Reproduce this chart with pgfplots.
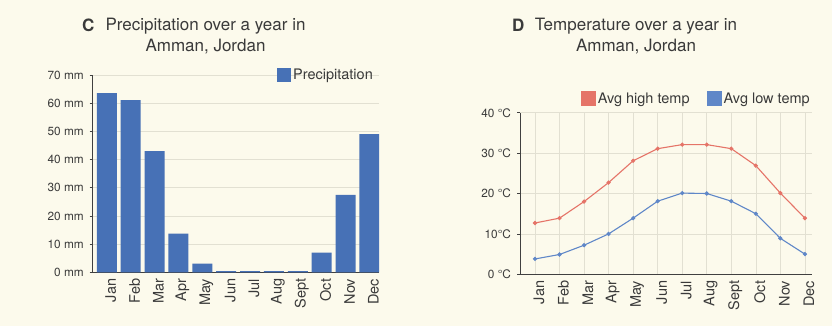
\documentclass[border=0pt]{standalone}
\usepackage{pgfplots}
\pgfplotsset{compat=1.18}
\usepackage{fontspec}
\setmainfont{TeX Gyre Heros}
\definecolor{bg}{HTML}{FCFAEC}
\definecolor{txt}{HTML}{3A3A3A}
\definecolor{barblue}{HTML}{4771B6}
\definecolor{hired}{HTML}{E57468}
\definecolor{loblue}{HTML}{5F87C8}
\definecolor{gridc}{HTML}{E2E0D2}
\definecolor{axc}{HTML}{404040}
\pgfplotsset{
  common/.style={
    scale only axis,
    anchor=south west,
    axis lines*=left,
    axis line style={axc, line width=0.9bp},
    tick align=outside,
    major tick length=3bp,
    ytick style={axc, line width=0.7bp},
    xtick style={draw=none},
    yticklabel style={font=\fontsize{11.8bp}{13bp}\selectfont, text=txt, xshift=-2.5bp},
    xticklabel style={rotate=90, anchor=east, font=\fontsize{14.5bp}{16bp}\selectfont, text=txt, yshift=-4bp},
    xtick={0,...,11},
    xticklabels={Jan,Feb,Mar,Apr,May,Jun,Jul,Aug,Sept,Oct,Nov,Dec},
    grid style={gridc, line width=0.6bp},
    legend style={draw=none, fill=none, font=\fontsize{14.5bp}{16bp}\selectfont, text=txt, inner sep=0pt},
    legend image code/.code={\fill[#1] (0bp,-7bp) rectangle (14bp,7bp);},
    legend cell align=left,
  }
}
\begin{document}
\begin{tikzpicture}[x=1bp,y=1bp]
\fill[bg] (0,0) rectangle (832,326);
% titles
\node[font=\fontsize{17bp}{21bp}\selectfont, text=txt, align=center] at (205.5,290) {Precipitation over a year in\\Amman, Jordan};
\node[font=\bfseries\fontsize{17bp}{21bp}\selectfont, text=txt, anchor=east] at (98,301) {C};
\node[font=\fontsize{17bp}{21bp}\selectfont, text=txt, align=center] at (636,290) {Temperature over a year in\\Amman, Jordan};
\node[font=\bfseries\fontsize{17bp}{21bp}\selectfont, text=txt, anchor=east] at (528,301) {D};

\begin{axis}[common,
  at={(92.7bp,53.7bp)}, width=286.3bp, height=197.3bp,
  xmin=-0.59, xmax=11.4, ymin=0, ymax=70,
  ytick={0,10,...,70},
  yticklabels={0 mm,10 mm,20 mm,30 mm,40 mm,50 mm,60 mm,70 mm},
  ymajorgrids,
  legend style={at={(1,1)}, anchor=east, xshift=-4bp},
]
\addplot[ybar, bar width=20bp, bar shift=0pt, fill=barblue, draw=none] coordinates {
(0,63.6) (1,61.1) (2,43) (3,13.7) (4,3.1) (5,0.4) (6,0.4) (7,0.4) (8,0.4) (9,7) (10,27.5) (11,49)};
\addlegendentry{Precipitation}
\end{axis}

\begin{axis}[common,
  at={(520bp,51.7bp)}, width=292bp, height=161.6bp,
  xmin=-0.61, xmax=11.29, ymin=0, ymax=40,
  ytick={0,10,...,40},
  yticklabels={0 °C,10°C,20 °C,30 °C,40 °C},
  ymajorgrids, xmajorgrids,
  legend columns=2,
  legend style={at={(1,1)}, anchor=east, yshift=14bp,
    /tikz/every even column/.append style={column sep=15bp}},
]
\addplot[hired, line width=1.1bp, mark=*, mark size=1.5bp] coordinates {
(0,12.7) (1,13.9) (2,18) (3,22.7) (4,28.1) (5,31.1) (6,32.1) (7,32.1) (8,31.1) (9,26.9) (10,20.1) (11,13.9)};
\addlegendentry{Avg high temp}
\addplot[loblue, line width=1.1bp, mark=*, mark size=1.5bp] coordinates {
(0,3.8) (1,4.9) (2,7.2) (3,10) (4,13.9) (5,18.1) (6,20.1) (7,20) (8,18.1) (9,15) (10,8.9) (11,5)};
\addlegendentry{Avg low temp}
\end{axis}
\end{tikzpicture}
\end{document}
